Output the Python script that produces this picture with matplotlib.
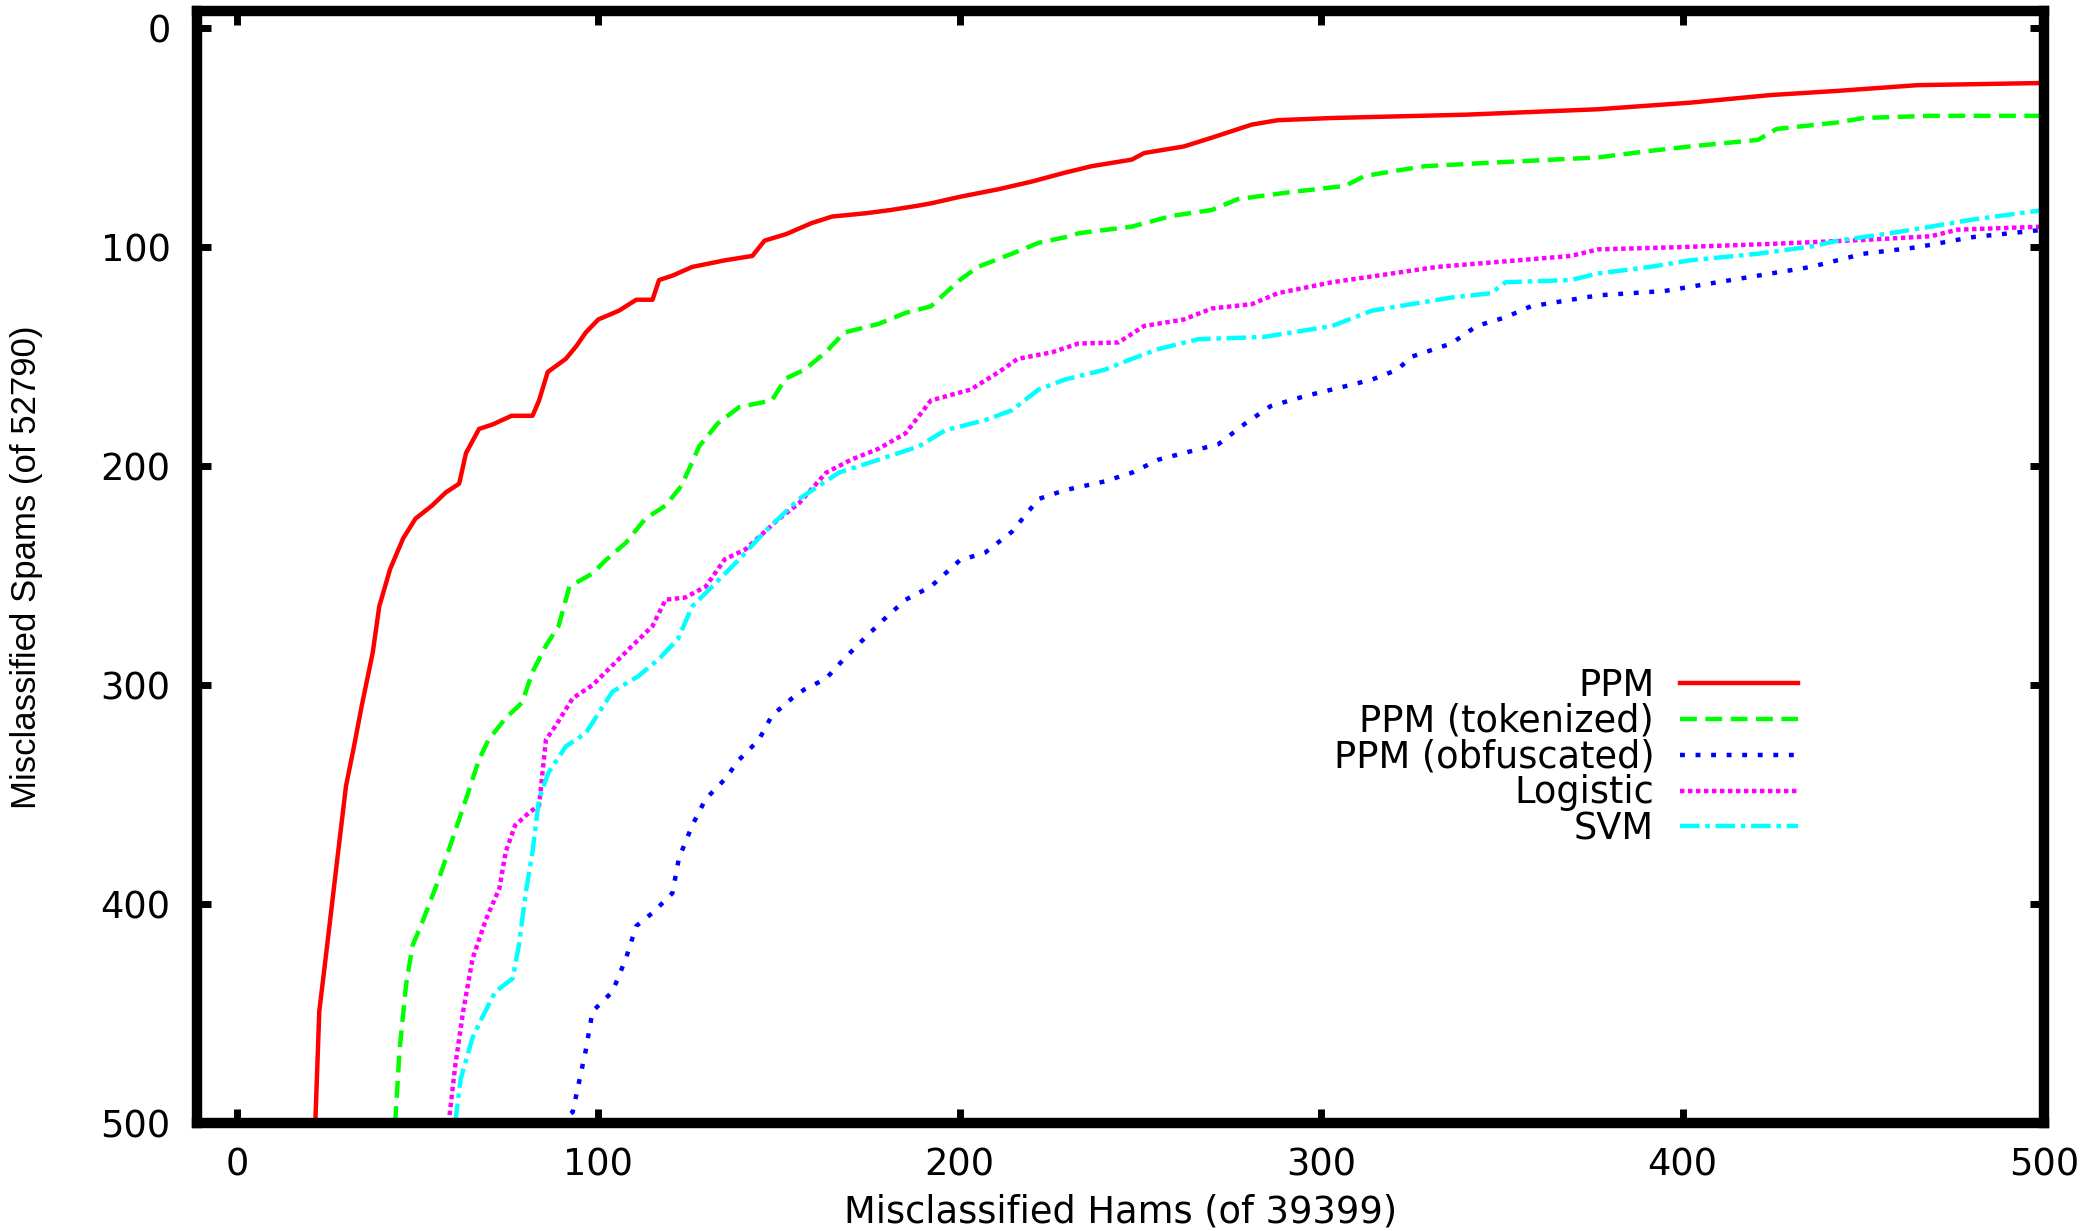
import matplotlib.pyplot as plt

# ROC-style curves: misclassified hams (x) vs misclassified spams (y)
ppm_x = [21.7, 22.8, 25.4, 27.6, 30.2, 32.4, 34.6, 37.6, 39.4, 42.4, 46, 49.4, 54, 57.8, 61.5,
         63.4, 67, 70.7, 76, 81.8, 83.6, 86, 91, 94, 96.5, 100, 105.7, 110.5, 115, 116.8, 120.5,
         126, 135, 142.6, 146, 152, 159, 164.7, 174, 181, 188.6, 192, 200, 210.8, 220, 229,
         236.5, 247.6, 251, 262, 269.7, 280.8, 288, 303, 339.7, 376.6, 402, 424.5, 443, 465, 500]
ppm_y = [500, 449, 413, 382, 346, 328, 309, 285, 264, 247, 233, 224, 218, 212, 208,
         194, 183, 181, 177, 177, 170, 157, 151, 145, 139, 133, 129, 124, 124, 115, 113,
         109, 106, 104, 97, 94, 89, 86, 84.5, 83, 81, 80, 77, 73.5, 70, 66,
         63, 60, 57, 54, 50, 44, 42, 41, 39.5, 37, 34, 30.5, 28.6, 26, 25]

tok_x = [43.8, 45, 46.8, 48.6, 51.6, 56, 59.7, 63.4, 67, 69.6, 74.4, 78.9, 81.8, 85.5, 89, 92,
         98.4, 102, 107.6, 113, 118.6, 123, 127.9, 133, 139, 148, 151.8, 157, 162.9, 168, 177.6,
         185, 192, 200, 205, 214.4, 221.8, 229, 233, 247.6, 258.7, 269.7, 277, 291.8, 306.6,
         312, 321, 328.7, 347, 376.6, 391, 402, 420.8, 426, 443, 450, 468.7, 500]
tok_y = [500, 467, 437, 419, 407, 388, 370, 352, 334, 325, 315, 308, 294, 282, 273, 255,
         249, 243, 235, 224, 218, 209, 191, 180.5, 173, 170, 160, 156, 148, 139, 135,
         130, 127, 115, 109, 103, 98, 95.5, 93.6, 90.6, 85.7, 83, 78, 74.8, 72,
         67.5, 65, 63, 61.4, 59, 56, 54, 51, 46, 43, 41, 40, 40]

obf_x = [89, 92.9, 96.5, 98.4, 103.9, 107.6, 110.5, 115, 120.5, 122.3, 126, 129.7, 135, 139,
         144.4, 148, 153.6, 157, 163, 168, 174, 179, 185, 192, 200, 207, 214.4, 221.8, 229, 240,
         247.6, 255, 262, 271.5, 279, 286, 295.5, 303, 314, 321, 325, 336, 343, 351, 358, 376.6,
         395, 409.7, 420.8, 435.5, 450, 465, 479.7, 500]
obf_y = [500, 495, 467, 449, 440, 425, 410, 404, 395, 379, 364, 352, 343, 334,
         325, 314, 306, 302, 297, 288, 278, 270, 261, 255, 243, 239.5, 230, 215, 211, 207,
         203, 197, 194, 190, 180.5, 172.6, 168, 165, 160.5, 156, 150, 144, 136, 132, 127, 122,
         120, 116, 113, 109, 103, 100, 95.5, 92]

log_x = [58.6, 60.4, 62.6, 65.2, 68.9, 72.6, 74.4, 77, 81, 83.6, 85.5, 88.4, 92.9, 98.4, 103.9,
         109.4, 115, 118.6, 124, 129.7, 135, 140.7, 146, 150, 155.5, 163, 170, 177.6, 185, 192,
         203, 210.8, 216, 225.5, 232.8, 243.9, 251, 262, 269.7, 280.8, 288, 303, 317.6, 332,
         354.4, 369, 376.6, 398.7, 424.5, 450, 468.7, 476, 500]
log_y = [500, 474, 449, 425, 407, 393, 376, 364, 358, 355, 325, 318, 306, 300, 291,
         282, 273, 261, 260, 255, 242.5, 238, 230, 224, 217, 203, 197, 192, 185, 170,
         165, 157, 151, 148, 144, 143.5, 136, 133, 128, 126, 121, 116, 112.5, 109,
         106, 104, 101, 100, 98.5, 96.7, 95, 92, 90.6]

svm_x = [60.4, 61.9, 65.2, 67.8, 71.5, 76.3, 78, 80, 81.8, 83.6, 86.2, 91, 96.5, 103.9, 111,
         116.8, 122, 126, 131.5, 139, 146, 155.5, 166.5, 177.6, 188.6, 196, 207, 214.4, 221.8,
         229, 240, 247.6, 255, 266, 284, 295.5, 303, 314, 325, 336, 347, 351, 369, 376.6, 391,
         402, 420.8, 435.5, 443, 457.5, 468.7, 479.7, 500]
svm_y = [500, 480, 461, 452, 440, 434, 419, 394, 376, 352, 340, 328, 322, 303, 296,
         288, 279, 264, 255, 242.5, 230, 215, 203, 197, 191, 183.6, 179, 174.5, 165,
         160.5, 156, 151, 146.5, 142, 141, 138, 136, 129, 126, 123, 121, 116, 115, 112, 109,
         106, 103, 99.7, 97, 93.6, 90.6, 87.5, 83]

# the reference text is horizontally wide, DejaVu Sans gets closest
plt.rcParams['font.family'] = ['DejaVu Sans']
FS = 26.5

fig = plt.figure(figsize=(20.88, 12.31), dpi=100)
ax = fig.add_axes([0.0944, 0.0877, 0.8846, 0.9036])

lw = 3.2
ax.plot(ppm_x, ppm_y, color='#ff0000', lw=lw, ls='-', label='PPM')
ax.plot(tok_x, tok_y, color='#00ff00', lw=lw, ls=(0, (3.8, 1.9)), label='PPM (tokenized)')
ax.plot(obf_x, obf_y, color='#0000ff', lw=lw, ls=(0, (1.1, 2.4)), label='PPM (obfuscated)')
ax.plot(log_x, log_y, color='#ff00ff', lw=lw, ls=(0, (1.0, 0.8)), label='Logistic')
ax.plot(svm_x, svm_y, color='#00ffff', lw=lw, ls=(0, (4.4, 1.3, 1.0, 1.3)), label='SVM')

ax.set_xlim(-11, 500)
ax.set_ylim(500, -8)
ax.set_xticks([0, 100, 200, 300, 400, 500])
ax.set_yticks([0, 100, 200, 300, 400, 500])

for s in ax.spines.values():
    s.set_linewidth(7.5)
ax.tick_params(direction='in', length=10, width=5, top=True, right=True, labelsize=FS)
ax.tick_params(axis='x', pad=17)
ax.tick_params(axis='y', pad=19)

ax.set_xlabel('Misclassified Hams (of 39399)', fontsize=FS)
ax.xaxis.set_label_coords(0.5, -0.0802)
ax.xaxis.label.set_va('center')
ax.set_ylabel('Misclassified Spams (of 52790)', fontsize=25, family='Liberation Sans')
ax.yaxis.set_label_coords(-0.0923, 0.5)
ax.yaxis.label.set_va('center')

ax.legend(loc='center right', bbox_to_anchor=(0.861, 0.385), bbox_transform=fig.transFigure,
          frameon=False, markerfirst=False, fontsize=FS, handlelength=3.2,
          handletextpad=0.7, labelspacing=-0.03, borderpad=0, borderaxespad=0)

fig.savefig('out.png', dpi=100)
